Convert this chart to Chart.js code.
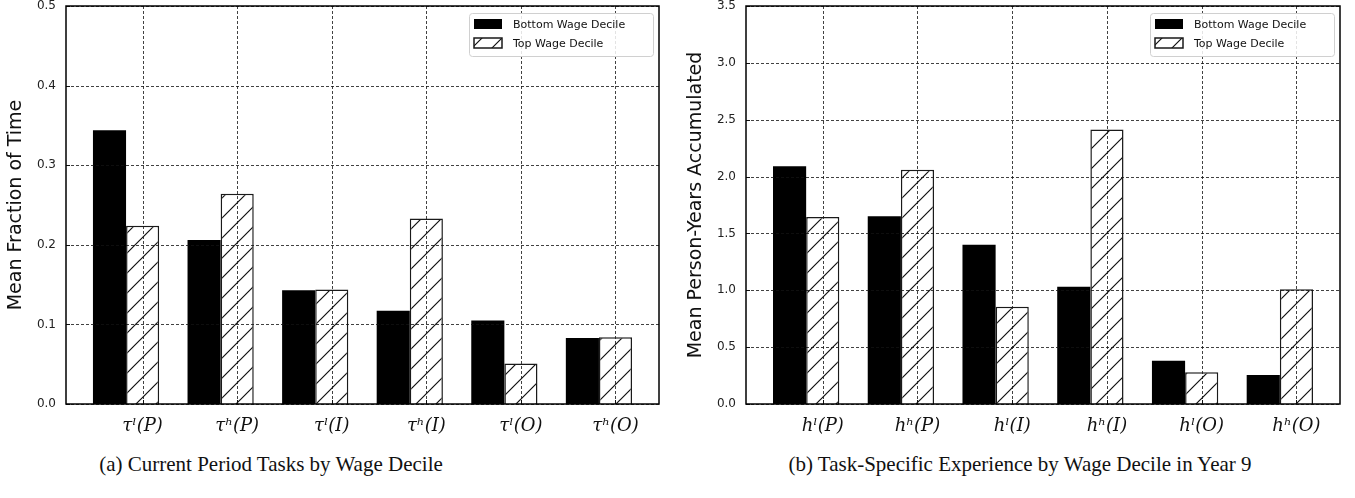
<!DOCTYPE html>
<html>
<head>
<meta charset="utf-8">
<script src="https://cdn.jsdelivr.net/npm/chart.js@4.4.1/dist/chart.umd.min.js"></script>
<style>
body { margin: 0; background: #fff; width: 1355px; height: 498px; position: relative; overflow: hidden; }
canvas { position: absolute; top: 0; }
.cap { position: absolute; top: 452px; font-family: "Liberation Serif", serif; font-size: 21px; color: #111; white-space: nowrap; transform: translateX(-50%); }
</style>
</head>
<body>
<canvas id="chartA" width="677" height="450" style="left:0"></canvas>
<canvas id="chartB" width="675" height="450" style="left:680px"></canvas>
<div class="cap" style="left:271px">(a) Current Period Tasks by Wage Decile</div>
<div class="cap" style="left:1020px">(b) Task-Specific Experience by Wage Decile in Year 9</div>
<script>
// panel (a)
let taskLabels = ["τˡ(P)", "τʰ(P)", "τˡ(I)", "τʰ(I)", "τˡ(O)", "τʰ(O)"];
let taskBottom = [0.344, 0.206, 0.143, 0.117, 0.105, 0.083];
let taskTop = [0.224, 0.264, 0.144, 0.233, 0.051, 0.084];

// panel (b)
let expLabels = ["hˡ(P)", "hʰ(P)", "hˡ(I)", "hʰ(I)", "hˡ(O)", "hʰ(O)"];
let expBottom = [2.09, 1.65, 1.40, 1.03, 0.38, 0.255];
let expTop = [1.645, 2.06, 0.855, 2.415, 0.28, 1.01];

let seriesNames = ["Bottom Wage Decile", "Top Wage Decile"];

function makeHatch() {
    let c = document.createElement("canvas");
    c.width = 20;
    c.height = 20;
    let g = c.getContext("2d");
    g.fillStyle = "#fff";
    g.fillRect(0, 0, 20, 20);
    g.strokeStyle = "#111";
    g.lineWidth = 1.2;
    g.beginPath();
    g.moveTo(-2, 22); g.lineTo(22, -2);
    g.moveTo(-12, 12); g.lineTo(12, -12);
    g.moveTo(8, 32); g.lineTo(32, 8);
    g.stroke();
    return g.createPattern(c, "repeat");
}

// grid on top of the bars, inward ticks and the frame
const frameGrid = {
    id: "frameGrid",
    afterDatasetsDraw(chart) {
        let ctx = chart.ctx;
        let a = chart.chartArea;
        let x = chart.scales.x, y = chart.scales.y;
        ctx.save();
        ctx.strokeStyle = "#111";
        ctx.lineWidth = 0.8;
        ctx.setLineDash([3, 2]);
        ctx.beginPath();
        y.ticks.forEach(function(t) {
            let py = Math.round(y.getPixelForValue(t.value)) + 0.5;
            ctx.moveTo(a.left, py); ctx.lineTo(a.right, py);
        });
        x.ticks.forEach(function(t) {
            let px = Math.round(x.getPixelForValue(t.value)) + 0.5;
            ctx.moveTo(px, a.top); ctx.lineTo(px, a.bottom);
        });
        ctx.stroke();
        ctx.setLineDash([]);
        ctx.lineWidth = 1;
        ctx.beginPath();
        y.ticks.forEach(function(t) {
            let py = Math.round(y.getPixelForValue(t.value)) + 0.5;
            ctx.moveTo(a.left, py); ctx.lineTo(a.left + 4, py);
        });
        x.ticks.forEach(function(t) {
            let px = Math.round(x.getPixelForValue(t.value)) + 0.5;
            ctx.moveTo(px, a.bottom); ctx.lineTo(px, a.bottom - 4);
        });
        ctx.stroke();
        ctx.lineWidth = 1.5;
        ctx.strokeStyle = "#000";
        ctx.strokeRect(a.left, a.top, a.right - a.left, a.bottom - a.top);
        ctx.restore();
    }
};

// boxed legend in the upper right corner
const boxLegend = {
    id: "boxLegend",
    afterDraw(chart) {
        let ctx = chart.ctx;
        let a = chart.chartArea;
        let w = 184, h = 43;
        let left = a.right - 6 - w, top = a.top + 7;
        ctx.save();
        ctx.fillStyle = "rgba(255,255,255,0.85)";
        ctx.strokeStyle = "#d0d0d0";
        ctx.lineWidth = 1;
        ctx.beginPath();
        ctx.roundRect(left + 0.5, top + 0.5, w, h, 3);
        ctx.fill();
        ctx.stroke();
        ctx.font = "11px 'DejaVu Sans'";
        ctx.textBaseline = "middle";
        chart.data.datasets.forEach(function(ds, i) {
            let cy = top + 11 + i * 19;
            ctx.fillStyle = ds.backgroundColor;
            ctx.fillRect(left + 5, cy - 5, 28, 10);
            if (ds.borderWidth) {
                ctx.strokeStyle = ds.borderColor;
                ctx.lineWidth = 1.5;
                ctx.strokeRect(left + 5, cy - 5, 28, 10);
            }
            ctx.fillStyle = "#111";
            ctx.fillText(ds.label, left + 44, cy + 1);
        });
        ctx.restore();
    }
};

function drawPanel(id, labels, bottom, top, yMax, yStep, yTitle, padRight) {
    let hatch = makeHatch();
    return new Chart(document.getElementById(id), {
        type: "bar",
        data: {
            datasets: [{
                label: seriesNames[0],
                data: bottom.map(function(v, i) { return { x: i, y: v }; }),
                backgroundColor: "#000",
                borderWidth: 0
            }, {
                label: seriesNames[1],
                data: top.map(function(v, i) { return { x: i, y: v }; }),
                backgroundColor: hatch,
                borderColor: "#1a1a1a",
                borderWidth: 1.5
            }]
        },
        options: {
            responsive: false,
            animation: false,
            categoryPercentage: 0.7,
            barPercentage: 1.0,
            layout: { padding: { top: 6, right: padRight, left: 0, bottom: 0 } },
            plugins: { legend: { display: false }, tooltip: { enabled: false } },
            scales: {
                x: {
                    type: "linear",
                    offset: false,
                    min: -0.635,
                    max: 5.635,
                    grid: { display: false, drawTicks: false },
                    border: { display: false },
                    afterBuildTicks: function(axis) {
                        axis.ticks = labels.map(function(l, i) { return { value: i + 0.175 }; });
                    },
                    afterFit: function(axis) {
                        axis.height = 46;
                        axis.paddingLeft = 0;
                        axis.paddingRight = 0;
                    },
                    ticks: {
                        padding: 12,
                        color: "#111",
                        font: { family: "'DejaVu Serif'", size: 18, style: "italic" },
                        callback: function(v, i) { return labels[i]; }
                    }
                },
                y: {
                    min: 0,
                    max: yMax,
                    grid: { display: false, drawTicks: false },
                    border: { display: false },
                    afterFit: function(axis) {
                        axis.width = 66;
                        axis.paddingTop = 0;
                        axis.paddingBottom = 0;
                    },
                    title: {
                        display: true,
                        text: yTitle,
                        color: "#111",
                        font: { family: "'DejaVu Sans'", size: 19 },
                        padding: { top: 5, bottom: 0 }
                    },
                    ticks: {
                        stepSize: yStep,
                        padding: 10,
                        color: "#222",
                        font: { family: "'DejaVu Sans'", size: 12 },
                        callback: function(v) { return v.toFixed(1); }
                    }
                }
            }
        },
        plugins: [frameGrid, boxLegend]
    });
}

window.onload = function() {
    drawPanel("chartA", taskLabels, taskBottom, taskTop, 0.5, 0.1, "Mean Fraction of Time", 18);
    drawPanel("chartB", expLabels, expBottom, expTop, 3.5, 0.5, "Mean Person-Years Accumulated", 15);
};
</script>
</body>
</html>
